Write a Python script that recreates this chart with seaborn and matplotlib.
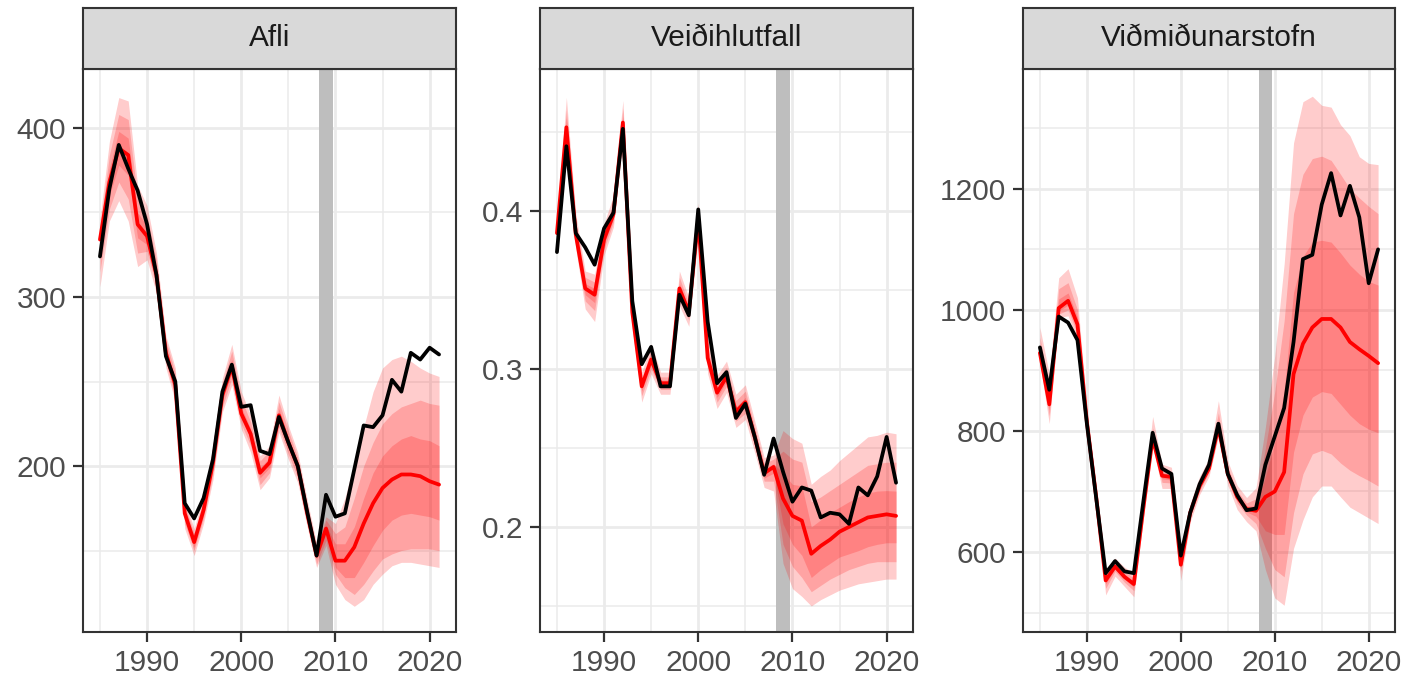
import numpy as np
import pandas as pd
import matplotlib
matplotlib.use("Agg")
import matplotlib.pyplot as plt
from matplotlib.ticker import MultipleLocator
import seaborn as sns

# ---------------- data ----------------
years = list(range(1985, 2022))
panel_titles = ["Afli", "Veiðihlutfall", "Viðmiðunarstofn"]
xticks = [1990, 2000, 2010, 2020]
xtick_labels = ["1990", "2000", "2010", "2020"]
yticks = [[200, 300, 400], [0.2, 0.3, 0.4], [600, 800, 1000, 1200]]
ytick_labels = [["200", "300", "400"], ["0.2", "0.3", "0.4"], ["600", "800", "1000", "1200"]]
shade_years = [2008.3, 2009.7]

# Afli
afli_obs = [324, 364, 390, 376, 363, 343, 313, 265, 250, 178, 169, 181, 204, 244, 260, 235, 236, 209, 207, 229,
            214, 200, 173, 147, 183, 170, 172, 198, 224, 223, 230, 251, 244, 267, 263, 270, 266]
afli_med = [334, 368, 388, 384, 343, 336, 313, 267, 248, 172, 155, 174, 202, 242, 259, 231, 219, 196, 202, 230,
            214, 200, 172, 147, 163, 144, 144, 152, 166, 178, 187, 192, 195, 195, 194, 191, 189]
afli_o_hi = [346, 392, 418, 416, 366, 354, 326, 277, 258, 180, 163, 183, 212, 252, 272, 244, 230, 206, 212, 242,
             224, 208, 180, 154, 170, 166, 181, 202, 223, 244, 258, 263, 265, 262, 258, 255, 253]
afli_o_lo = [306, 345, 357, 345, 318, 322, 302, 258, 238, 163, 147, 166, 192, 232, 248, 222, 208, 186, 193, 220,
             204, 190, 164, 140, 153, 130, 121, 117, 121, 130, 136, 141, 143, 143, 142, 141, 140]
afli_m_hi = [341, 384, 408, 405, 358, 348, 322, 274, 255, 177, 160, 180, 209, 249, 268, 240, 226, 203, 209, 238,
             221, 205, 177, 152, 168, 160, 164, 181, 200, 214, 225, 231, 235, 237, 239, 237, 236]
afli_m_lo = [315, 352, 368, 358, 326, 327, 306, 261, 241, 166, 150, 169, 195, 235, 252, 225, 212, 189, 196, 223,
             207, 193, 167, 142, 156, 136, 128, 124, 130, 138, 145, 148, 150, 151, 151, 151, 150]
afli_i_hi = [337, 376, 398, 394, 350, 342, 317, 270, 251, 175, 158, 177, 205, 245, 263, 235, 222, 199, 205, 234,
             217, 202, 175, 149, 165, 154, 154, 164, 181, 196, 206, 212, 216, 218, 216, 215, 212]
afli_i_lo = [326, 360, 378, 372, 335, 331, 309, 264, 245, 169, 152, 171, 199, 239, 255, 228, 216, 193, 199, 226,
             211, 197, 169, 145, 160, 140, 134, 134, 143, 153, 162, 168, 171, 172, 171, 170, 168]

# Veiðihlutfall
vei_obs = [0.374, 0.441, 0.386, 0.377, 0.366, 0.389, 0.399, 0.452, 0.343, 0.303, 0.314, 0.289, 0.289, 0.347, 0.334,
           0.401, 0.330, 0.291, 0.298, 0.269, 0.278, 0.257, 0.233, 0.256, 0.235, 0.216, 0.225, 0.223, 0.206, 0.209,
           0.208, 0.202, 0.225, 0.220, 0.232, 0.257, 0.228]
vei_med = [0.386, 0.453, 0.385, 0.351, 0.347, 0.382, 0.398, 0.456, 0.336, 0.289, 0.306, 0.291, 0.291, 0.351, 0.336,
           0.395, 0.307, 0.285, 0.295, 0.273, 0.279, 0.257, 0.234, 0.238, 0.218, 0.207, 0.204, 0.183, 0.188, 0.192,
           0.197, 0.200, 0.203, 0.206, 0.207, 0.208, 0.207]
vei_o_hi = [0.395, 0.472, 0.398, 0.362, 0.360, 0.392, 0.410, 0.470, 0.346, 0.298, 0.316, 0.298, 0.298, 0.362, 0.345,
            0.405, 0.318, 0.296, 0.305, 0.284, 0.290, 0.267, 0.244, 0.2455, 0.261, 0.256, 0.253, 0.227, 0.232, 0.236,
            0.242, 0.247, 0.252, 0.257, 0.258, 0.260, 0.259]
vei_o_lo = [0.378, 0.436, 0.376, 0.338, 0.330, 0.372, 0.390, 0.445, 0.326, 0.279, 0.297, 0.284, 0.284, 0.340, 0.327,
            0.385, 0.297, 0.275, 0.285, 0.263, 0.268, 0.247, 0.225, 0.2227, 0.177, 0.161, 0.156, 0.150, 0.154, 0.157,
            0.160, 0.162, 0.164, 0.165, 0.166, 0.167, 0.167]
vei_m_hi = [0.391, 0.464, 0.393, 0.358, 0.355, 0.388, 0.405, 0.465, 0.342, 0.294, 0.312, 0.295, 0.295, 0.358, 0.341,
            0.401, 0.313, 0.292, 0.301, 0.280, 0.286, 0.263, 0.240, 0.243, 0.248, 0.243, 0.241, 0.216, 0.219, 0.223,
            0.227, 0.231, 0.235, 0.239, 0.240, 0.241, 0.241]
vei_m_lo = [0.381, 0.443, 0.379, 0.343, 0.337, 0.376, 0.393, 0.449, 0.330, 0.283, 0.300, 0.287, 0.287, 0.344, 0.331,
            0.389, 0.301, 0.279, 0.289, 0.267, 0.272, 0.251, 0.229, 0.229, 0.189, 0.175, 0.168, 0.159, 0.163, 0.167,
            0.170, 0.173, 0.175, 0.177, 0.178, 0.178, 0.178]
vei_i_hi = [0.389, 0.459, 0.389, 0.354, 0.351, 0.385, 0.401, 0.460, 0.339, 0.292, 0.309, 0.293, 0.293, 0.354, 0.339,
            0.398, 0.310, 0.288, 0.298, 0.276, 0.282, 0.260, 0.237, 0.240, 0.234, 0.227, 0.226, 0.200, 0.2045, 0.209,
            0.2125, 0.216, 0.219, 0.2215, 0.2227, 0.223, 0.2227]
vei_i_lo = [0.383, 0.448, 0.381, 0.347, 0.342, 0.379, 0.395, 0.452, 0.333, 0.286, 0.303, 0.289, 0.289, 0.348, 0.333,
            0.392, 0.304, 0.282, 0.292, 0.270, 0.276, 0.254, 0.231, 0.234, 0.202, 0.189, 0.182, 0.168, 0.173, 0.177,
            0.181, 0.183, 0.185, 0.1875, 0.189, 0.190, 0.190]

# Viðmiðunarstofn
st_obs = [938, 868, 989, 979, 950, 812, 688, 565, 585, 568, 565, 682, 797, 738, 729, 594, 665, 712, 744, 812,
          729, 694, 669, 672, 744, 791, 838, 947, 1084, 1091, 1174, 1226, 1156, 1205, 1153, 1044, 1100]
st_med = [929, 844, 1003, 1015, 976, 815, 690, 553, 576, 559, 547, 671, 788, 726, 724, 579, 665, 709, 738, 806,
          729, 691, 671, 668, 691, 700, 732, 894, 944, 971, 985, 985, 971, 947, 935, 924, 912]
st_o_hi = [971, 894, 1053, 1068, 1020, 835, 705, 568, 590, 575, 565, 685, 824, 745, 740, 595, 680, 725, 755, 850,
           750, 710, 690, 706, 806, 924, 1076, 1276, 1344, 1353, 1338, 1335, 1306, 1288, 1253, 1242, 1240]
st_o_lo = [912, 812, 988, 990, 950, 795, 675, 529, 560, 543, 526, 655, 775, 705, 705, 553, 650, 695, 725, 790,
           710, 670, 650, 635, 571, 524, 512, 606, 653, 691, 709, 709, 691, 674, 665, 656, 647]
st_m_hi = [955, 870, 1035, 1045, 1000, 827, 699, 562, 584, 568, 557, 679, 805, 737, 733, 588, 673, 718, 747, 830,
           740, 701, 681, 688, 771, 865, 982, 1159, 1224, 1250, 1254, 1247, 1224, 1200, 1185, 1171, 1159]
st_m_lo = [918, 825, 993, 1000, 960, 803, 681, 540, 568, 550, 536, 663, 780, 715, 714, 568, 657, 701, 731, 797,
           720, 681, 661, 647, 606, 571, 559, 665, 729, 762, 768, 762, 747, 735, 726, 718, 709]
st_i_hi = [940, 855, 1018, 1028, 988, 821, 694, 557, 580, 563, 552, 675, 795, 731, 728, 583, 669, 713, 742, 815,
           734, 696, 676, 676, 724, 782, 865, 1029, 1088, 1112, 1115, 1112, 1094, 1074, 1059, 1047, 1041]
st_i_lo = [923, 835, 998, 1008, 968, 809, 686, 547, 572, 555, 542, 667, 784, 721, 719, 574, 661, 705, 734, 801,
           724, 686, 666, 659, 635, 629, 629, 765, 826, 856, 865, 862, 844, 826, 812, 803, 797]

panels = [
    dict(obs=afli_obs, med=afli_med, bands=[(afli_o_lo, afli_o_hi), (afli_m_lo, afli_m_hi), (afli_i_lo, afli_i_hi)]),
    dict(obs=vei_obs, med=vei_med, bands=[(vei_o_lo, vei_o_hi), (vei_m_lo, vei_m_hi), (vei_i_lo, vei_i_hi)]),
    dict(obs=st_obs, med=st_med, bands=[(st_o_lo, st_o_hi), (st_m_lo, st_m_hi), (st_i_lo, st_i_hi)]),
]

# ---------------- layout / style ----------------
W, H = 1409, 678
panel_px = [(83, 456), (540, 913), (1023, 1395)]
top_px, bottom_px, strip_top_px = 69, 632, 8
ylims = [(101.8, 434.9), (0.1335, 0.4899), (467.8, 1398.0)]
yminor = [50, 0.05, 100]
xlim = (1983.2, 2022.8)

sns.set_theme(style="white")
plt.rcParams["font.family"] = ["Liberation Sans", "DejaVu Sans"]

fig = plt.figure(figsize=(W / 100, H / 100), dpi=100)
fig.patch.set_facecolor("white")

border = "#333333"
for k, (p, title) in enumerate(zip(panels, panel_titles)):
    l, r = panel_px[k]
    ax = fig.add_axes([l / W, 1 - bottom_px / H, (r - l) / W, (bottom_px - top_px) / H])
    ax.set_facecolor("white")
    ax.set_axisbelow(True)

    ax.axvspan(shade_years[0], shade_years[1], color="#BEBEBE", lw=0, zorder=1)
    for lo, hi in p["bands"]:
        ax.fill_between(years, lo, hi, color="red", alpha=0.2, lw=0, zorder=2)

    df = pd.DataFrame({
        "year": years * 2,
        "value": list(p["med"]) + list(p["obs"]),
        "series": ["med"] * len(years) + ["obs"] * len(years),
    })
    sns.lineplot(data=df, x="year", y="value", hue="series", hue_order=["med", "obs"],
                 palette={"med": "#FF0000", "obs": "black"}, legend=False, ax=ax,
                 linewidth=2.7, zorder=3)

    ax.set_xlim(*xlim)
    ax.set_ylim(*ylims[k])
    ax.set_xticks(xticks)
    ax.set_xticklabels(xtick_labels)
    ax.set_yticks(yticks[k])
    ax.set_yticklabels(ytick_labels[k])
    ax.xaxis.set_minor_locator(MultipleLocator(5))
    ax.yaxis.set_minor_locator(MultipleLocator(yminor[k]))
    ax.grid(which="major", color="#EBEBEB", lw=2.0)
    ax.grid(which="minor", color="#EBEBEB", lw=1.1)
    ax.set_xlabel("")
    ax.set_ylabel("")
    ax.tick_params(which="major", direction="out", length=7, width=1.6, color=border,
                   labelsize=21.5, labelcolor="#4D4D4D", pad=5, bottom=True, left=True)
    ax.tick_params(which="minor", length=0)
    for s in ax.spines.values():
        s.set_color(border)
        s.set_linewidth(1.5)
        s.set_zorder(5)

    sax = fig.add_axes([l / W, 1 - top_px / H, (r - l) / W, (top_px - strip_top_px) / H])
    sax.set_facecolor("#D9D9D9")
    sax.set_xticks([])
    sax.set_yticks([])
    for s in sax.spines.values():
        s.set_color(border)
        s.set_linewidth(1.5)
    sax.text(0.5, 0.5, title, ha="center", va="center", fontsize=21.5, color="#1A1A1A",
             transform=sax.transAxes)

fig.savefig("out.png", dpi=100, facecolor="white")
